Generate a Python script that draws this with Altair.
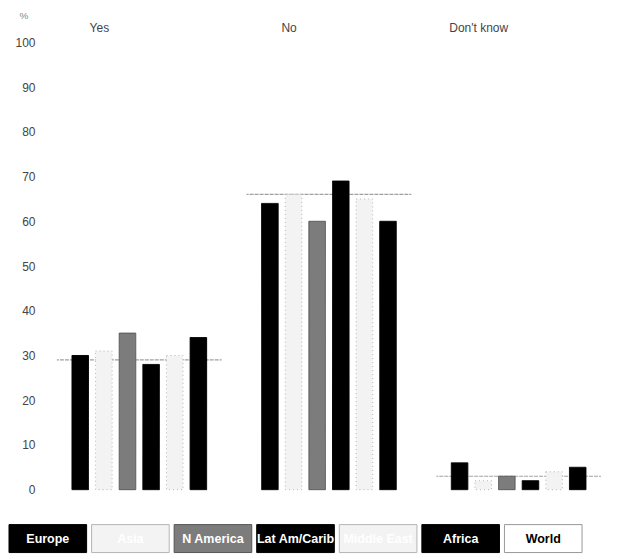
import altair as alt
import pandas as pd

categories = ["Yes", "No", "Don't know"]
regions = ["Europe", "Asia", "N America", "Lat Am/Carib", "Middle East", "Africa"]
europe = [30, 64, 6]
asia = [31, 66, 2]
n_america = [35, 60, 3]
lat_am_carib = [28, 69, 2]
middle_east = [30, 65, 4]
africa = [34, 60, 5]
world = [29, 66, 3]
legend_items = regions + ["World"]

series = [europe, asia, n_america, lat_am_carib, middle_east, africa]
rows = []
for reg, vals in zip(regions, series):
    for cat, v in zip(categories, vals):
        rows.append({"region": reg, "category": cat, "value": v})
df = pd.DataFrame(rows)
world_df = pd.DataFrame({"category": categories, "value": world})
legend_df = pd.DataFrame({"item": legend_items})

fills = ["#000000", "#f3f3f3", "#7c7c7c", "#000000", "#f3f3f3", "#000000"]
strokes = ["#000000", "#b5b5b5", "#555555", "#000000", "#b5b5b5", "#000000"]
dashes = [[1, 0], [1, 3], [1, 0], [1, 0], [1, 3], [1, 0]]
FONT = "Liberation Sans"

x_enc = alt.X(
    "category:N", sort=categories,
    scale=alt.Scale(paddingInner=0.29, paddingOuter=0.153),
    axis=alt.Axis(orient="top", title=None, labelAngle=0, labelOffset=-40,
                  domain=False, ticks=False, labelPadding=8, labelFontSize=12,
                  labelFont=FONT, labelColor="#444"),
)
y_enc = alt.Y(
    "value:Q", scale=alt.Scale(domain=[0, 100]),
    axis=alt.Axis(values=list(range(0, 101, 10)), grid=False, domain=False, ticks=False,
                  labelPadding=8, labelFontSize=12, labelFont=FONT, labelColor="#444",
                  title="%", titleAngle=0, titleX=-24, titleY=-22, titleAlign="left",
                  titleBaseline="bottom", titleFontSize=10, titleFontWeight="normal",
                  titleColor="#888", titleFont=FONT),
)

world_layer = alt.Chart(world_df).mark_tick(
    filled=False, thickness=0, size=165, stroke="#777", strokeWidth=1.2, strokeDash=[2, 3]
).encode(x=x_enc, y=y_enc)

bars = alt.Chart(df).mark_bar(strokeWidth=1).encode(
    x=x_enc,
    xOffset=alt.XOffset("region:N", sort=regions, scale=alt.Scale(paddingInner=0.3)),
    y=y_enc,
    fill=alt.Fill("region:N", scale=alt.Scale(domain=regions, range=fills), legend=None),
    stroke=alt.Stroke("region:N", scale=alt.Scale(domain=regions, range=strokes), legend=None),
    strokeDash=alt.StrokeDash("region:N", scale=alt.Scale(domain=regions, range=dashes), legend=None),
)

main = alt.layer(world_layer, bars).properties(width=573, height=448)

lx = alt.X("item:N", sort=legend_items, axis=None,
           scale=alt.Scale(range=[-34, 540], paddingInner=0.06, paddingOuter=0))
chips = alt.Chart(legend_df).mark_rect(strokeWidth=1).encode(
    x=lx,
    fill=alt.Fill("item:N", scale=alt.Scale(domain=legend_items, range=fills + ["#ffffff"]), legend=None),
    stroke=alt.Stroke("item:N", scale=alt.Scale(domain=legend_items, range=strokes + ["#999999"]), legend=None),
    strokeDash=alt.StrokeDash("item:N", scale=alt.Scale(domain=legend_items, range=dashes + [[1, 3]]), legend=None),
)
labels = alt.Chart(legend_df).mark_text(fontSize=12.5, fontWeight="bold", font=FONT).encode(
    x=lx,
    text="item:N",
    color=alt.Color("item:N", scale=alt.Scale(domain=legend_items,
                    range=["#ffffff"] * 6 + ["#000000"]), legend=None),
)
legend = alt.layer(chips, labels).properties(width=540, height=28)

chart = alt.vconcat(main, legend, spacing=28).resolve_scale(
    x="independent", fill="independent", stroke="independent",
    strokeDash="independent", color="independent"
).properties(
    padding={"left": 0, "top": 2, "right": 2, "bottom": 0},
    background="white",
).configure_view(strokeWidth=0, stroke="transparent")

chart.save("out.html", embed_options={"renderer": "svg", "actions": False})
